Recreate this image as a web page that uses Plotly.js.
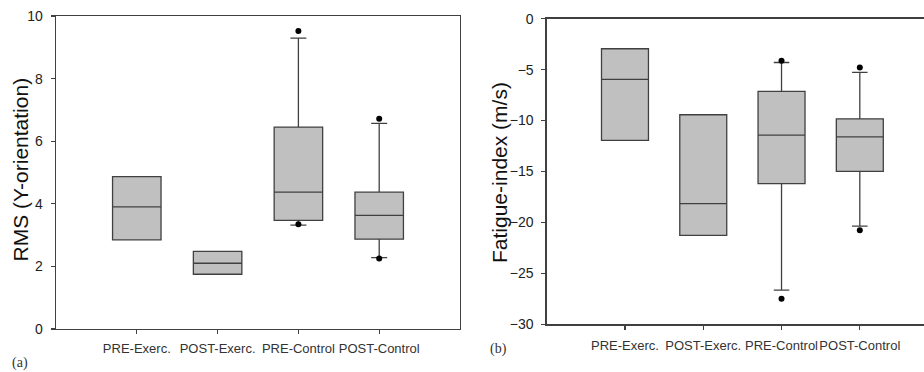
<!DOCTYPE html>
<html>
<head>
<meta charset="utf-8">
<script src="https://cdn.plot.ly/plotly-3.0.1.min.js"></script>
<style>html,body{margin:0;padding:0;background:#fff;}#chart{width:924px;height:372px;}</style>
</head>
<body>
<div id="chart"></div>
<script>
// Categories
var categories = ['PRE-Exerc.', 'POST-Exerc.', 'PRE-Control', 'POST-Control'];

// Panel (a): RMS (Y-orientation)
var rmsQ1 = [2.85, 1.75, 3.47, 2.87];
var rmsMedian = [3.9, 2.1, 4.37, 3.63];
var rmsQ3 = [4.87, 2.48, 6.45, 4.37];
var rmsLower = [2.85, 1.75, 3.32, 2.28];
var rmsUpper = [4.87, 2.48, 9.29, 6.57];
var rmsOutlierCat = ['PRE-Control', 'PRE-Control', 'POST-Control', 'POST-Control'];
var rmsOutlierVal = [9.52, 3.35, 6.72, 2.25];

// Panel (b): Fatigue-index (m/s)
var fiQ1 = [-11.95, -21.28, -16.2, -14.98];
var fiMedian = [-5.95, -18.15, -11.43, -11.6];
var fiQ3 = [-2.95, -9.43, -7.13, -9.83];
var fiLower = [-11.95, -21.28, -26.65, -20.37];
var fiUpper = [-2.95, -9.43, -4.3, -5.27];
var fiOutlierCat = ['PRE-Control', 'PRE-Control', 'POST-Control', 'POST-Control'];
var fiOutlierVal = [-4.13, -27.5, -4.78, -20.76];

var W = 924, H = 372;
var boxLine = {color: '#404040', width: 1.3};
var boxFill = '#c0c0c0';

var traces = [
  {type: 'box', x: categories, q1: rmsQ1, median: rmsMedian, q3: rmsQ3,
   lowerfence: rmsLower, upperfence: rmsUpper, boxpoints: false,
   width: 0.6, whiskerwidth: 0.33, line: boxLine, fillcolor: boxFill,
   xaxis: 'x', yaxis: 'y', showlegend: false, hoverinfo: 'skip'},
  {type: 'scatter', mode: 'markers', x: rmsOutlierCat, y: rmsOutlierVal,
   marker: {color: '#000', size: 6}, xaxis: 'x', yaxis: 'y', showlegend: false, hoverinfo: 'skip'},
  {type: 'box', x: categories, q1: fiQ1, median: fiMedian, q3: fiQ3,
   lowerfence: fiLower, upperfence: fiUpper, boxpoints: false,
   width: 0.6, whiskerwidth: 0.33, line: boxLine, fillcolor: boxFill,
   xaxis: 'x2', yaxis: 'y2', showlegend: false, hoverinfo: 'skip'},
  {type: 'scatter', mode: 'markers', x: fiOutlierCat, y: fiOutlierVal,
   marker: {color: '#000', size: 6}, xaxis: 'x2', yaxis: 'y2', showlegend: false, hoverinfo: 'skip'}
];

var axisCommon = {
  showgrid: false, zeroline: false, showline: true, linecolor: '#404040', linewidth: 1.3,
  ticks: 'outside', ticklen: 4, tickcolor: '#404040', tickwidth: 1.3
};

var titleFont = {family: 'Liberation Sans, Arial, sans-serif', size: 21, color: '#111'};
var serifFont = {family: 'Liberation Serif, Times New Roman, serif', size: 14, color: '#333'};

var layout = {
  width: W, height: H,
  margin: {l: 0, r: 0, t: 0, b: 0},
  paper_bgcolor: '#fff', plot_bgcolor: '#fff',
  showlegend: false,
  font: {family: 'Liberation Sans, Arial, sans-serif', color: '#222'},
  xaxis: Object.assign({}, axisCommon, {
    domain: [56 / W, 460 / W], anchor: 'y', type: 'category',
    categoryorder: 'array', categoryarray: categories,
    range: [-1, 4], mirror: true, ticklabelstandoff: 3, tickangle: 0,
    tickfont: {size: 13, color: '#333'}
  }),
  yaxis: Object.assign({}, axisCommon, {
    domain: [1 - 329 / H, 1 - 16 / H], anchor: 'x',
    range: [0, 10], tickvals: [0, 2, 4, 6, 8, 10], mirror: true,
    ticklabelstandoff: 5,
    tickfont: {size: 14, color: '#222'}
  }),
  xaxis2: Object.assign({}, axisCommon, {
    domain: [546.7 / W, 1], anchor: 'y2', type: 'category',
    categoryorder: 'array', categoryarray: categories,
    range: [-1, 3.82], mirror: true, ticklabelstandoff: 5, tickangle: 0,
    tickfont: {size: 13, color: '#333'}
  }),
  yaxis2: Object.assign({}, axisCommon, {
    domain: [1 - 324.3 / H, 1 - 18.7 / H], anchor: 'x2',
    range: [-30, 0], tickvals: [-30, -25, -20, -15, -10, -5, 0], mirror: false,
    ticklabelstandoff: 5,
    tickfont: {size: 14, color: '#222'}
  }),
  annotations: [
    {text: 'RMS (Y-orientation)', xref: 'paper', yref: 'paper', x: 19.5 / W, y: 1 - 170 / H,
     xanchor: 'center', yanchor: 'middle', textangle: -90, showarrow: false, font: titleFont},
    {text: 'Fatigue-index (m/s)', xref: 'paper', yref: 'paper', x: 499.5 / W, y: 1 - 172.5 / H,
     xanchor: 'center', yanchor: 'middle', textangle: -90, showarrow: false, font: titleFont},
    {text: '(a)', xref: 'paper', yref: 'paper', x: 20 / W, y: 1 - 363 / H,
     xanchor: 'center', yanchor: 'middle', showarrow: false, font: serifFont},
    {text: '(b)', xref: 'paper', yref: 'paper', x: 499 / W, y: 1 - 349 / H,
     xanchor: 'center', yanchor: 'middle', showarrow: false, font: serifFont}
  ]
};

Plotly.newPlot('chart', traces, layout, {staticPlot: true, displayModeBar: false});
</script>
</body>
</html>
